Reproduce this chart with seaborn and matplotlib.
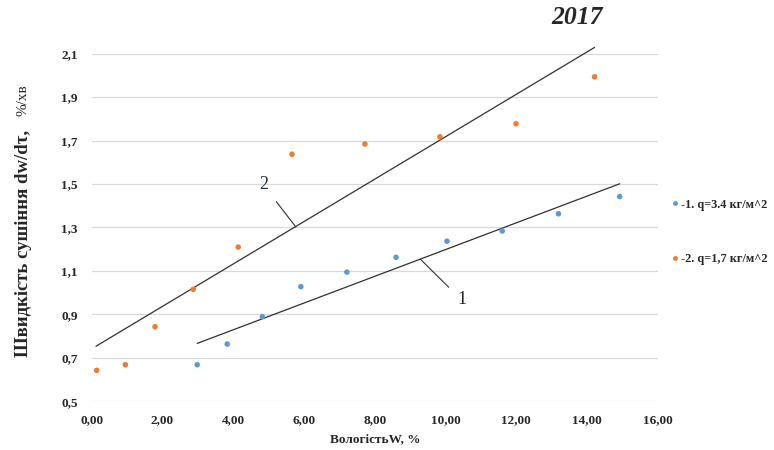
import matplotlib
matplotlib.use("Agg")
import matplotlib.pyplot as plt
from matplotlib.lines import Line2D
import seaborn as sns
import pandas as pd

# Series 1: q = 3.4 kg/m^2
w1 = [2.98, 3.83, 4.82, 5.91, 7.21, 8.60, 10.04, 11.60, 13.19, 14.92]
v1 = [0.669, 0.764, 0.890, 1.028, 1.095, 1.163, 1.237, 1.284, 1.363, 1.442]
# Series 2: q = 1.7 kg/m^2
w2 = [0.14, 0.95, 1.79, 2.87, 4.14, 5.66, 7.72, 9.84, 11.99, 14.21]
v2 = [0.643, 0.669, 0.844, 1.016, 1.210, 1.637, 1.684, 1.717, 1.777, 1.993]

# Approximating straight lines for each series (end points)
line1_w = [2.98, 14.92]
line1_v = [0.767, 1.501]
line2_w = [0.12, 14.21]
line2_v = [0.754, 2.128]

series_names = ["-1. q=3.4 кг/м^2", "-2. q=1,7 кг/м^2"]
colors = ["#5B9BD5", "#ED7D31"]

x_ticks = [0, 2, 4, 6, 8, 10, 12, 14, 16]
x_tick_labels = ["0,00", "2,00", "4,00", "6,00", "8,00", "10,00", "12,00", "14,00", "16,00"]
y_ticks = [0.5, 0.7, 0.9, 1.1, 1.3, 1.5, 1.7, 1.9, 2.1]
y_tick_labels = ["0,5", "0,7", "0,9", "1,1", "1,3", "1,5", "1,7", "1,9", "2,1"]

df = pd.DataFrame({
    "W": w1 + w2,
    "v": v1 + v2,
    "series": [series_names[0]] * len(w1) + [series_names[1]] * len(w2),
})

sns.set_style("white")
plt.rcParams["font.family"] = ["Liberation Serif", "DejaVu Serif"]

fig = plt.figure(figsize=(7.74, 4.5), dpi=100)
ax = fig.add_axes([0.1185, 0.1078, 0.7315, 0.7733])

for y in y_ticks:
    ax.axhline(y, color="#D9D9D9", lw=0.9, zorder=0)

sns.scatterplot(data=df, x="W", y="v", hue="series", palette=colors,
                s=16, edgecolor="none", legend=False, ax=ax, zorder=3)

ax.plot(line1_w, line1_v, color="#303030", lw=0.9, clip_on=False, zorder=2)
ax.plot(line2_w, line2_v, color="#303030", lw=0.9, clip_on=False, zorder=2)

ax.annotate("2", xy=(5.77, 1.302), xytext=(4.85, 1.496), fontsize=13,
            color="#1f2a44", ha="center", va="center",
            arrowprops=dict(arrowstyle="-", color="#303030", lw=0.8,
                            shrinkA=6, shrinkB=0))
ax.annotate("1", xy=(9.29, 1.154), xytext=(10.45, 0.967), fontsize=13,
            color="#222222", ha="center", va="center",
            arrowprops=dict(arrowstyle="-", color="#303030", lw=0.8,
                            shrinkA=5, shrinkB=0))

ax.set_xlim(0, 16)
ax.set_ylim(0.5, 2.1)
ax.set_xticks(x_ticks)
ax.set_xticklabels(x_tick_labels, fontsize=9.5, fontweight="bold")
ax.set_yticks(y_ticks)
ax.set_yticklabels(y_tick_labels, fontsize=9.5, fontweight="bold")
ax.tick_params(axis="both", length=0, pad=9)
ax.tick_params(axis="y", pad=10)
for s in ax.spines.values():
    s.set_visible(False)
ax.set_xlabel("ВологістьW, %", fontsize=9.5, fontweight="bold", labelpad=6)
ax.set_ylabel("")

fig.text(0.030, 1 - 357 / 450, "Швидкість сушіння dw/dτ,", rotation=90,
         ha="center", va="bottom", fontsize=13.5, fontweight="bold")
fig.text(0.030, 1 - 84 / 450, "%/хв", rotation=90,
         ha="center", va="top", fontsize=11)

fig.text(577 / 774, 1 - 17 / 450, "2017", ha="center", va="center",
         fontsize=18.5, fontweight="bold", fontstyle="italic")

handles = [Line2D([0], [0], marker="o", ls="none", markersize=3.5,
                  markerfacecolor=c, markeredgecolor="none") for c in colors]
fig.legend(handles, series_names, loc="center left",
           bbox_to_anchor=(664 / 774, 1 - 232 / 450), frameon=False,
           prop={"family": ["Liberation Serif", "DejaVu Serif"], "size": 8.8, "weight": "bold"},
           labelspacing=3.5, handletextpad=0.0, handlelength=1.0, borderaxespad=0)

fig.savefig("out.png", dpi=100)
